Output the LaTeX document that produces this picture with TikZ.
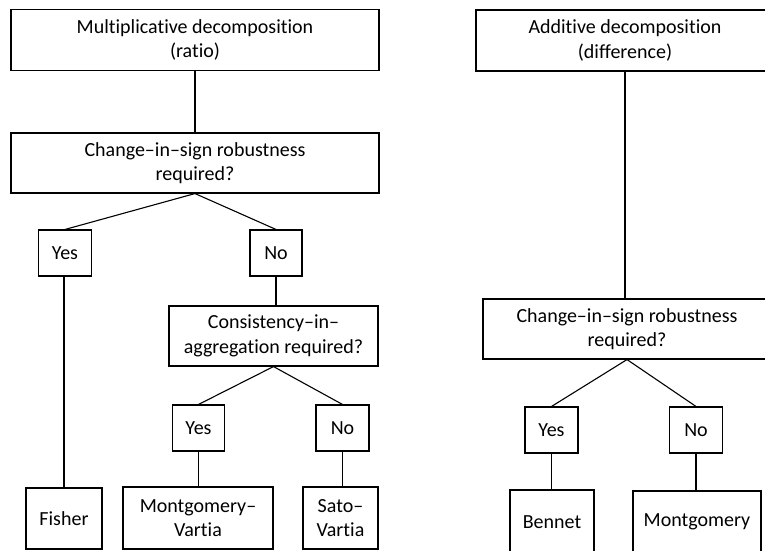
\documentclass[tikz,border=0pt]{standalone}
\usepackage{fontspec}
\setmainfont{Carlito}[Ligatures=NoCommon]
\begin{document}
\begin{tikzpicture}[x=1pt,y=-1pt,
  box/.style={draw=black,line width=1.1pt,inner sep=0pt,align=center,
    font=\fontsize{20}{24.4}\selectfont},
  link/.style={draw=black,line width=1.1pt}]
\useasboundingbox (0,0) rectangle (765,550);
\clip (0,0) rectangle (765,550);
% left tree
\node[box,minimum width=368pt,minimum height=61pt] (mult) at (195,40) {Multiplicative decomposition\\(ratio)};
\node[box,minimum width=368pt,minimum height=60pt] (ch1) at (195,163) {Change–in–sign robustness\\required?};
\node[box,minimum width=53pt,minimum height=46pt] (yes1) at (65,253) {Yes};
\node[box,minimum width=52pt,minimum height=46pt] (no1) at (276,253) {No};
\node[box,minimum width=209pt,minimum height=60pt] (cons) at (273.5,336) {Consistency–in–\\aggregation required?};
\node[box,minimum width=52pt,minimum height=46pt] (yes2) at (198.5,428) {Yes};
\node[box,minimum width=53pt,minimum height=46pt] (no2) at (342.5,428) {No};
\node[box,minimum width=76pt,minimum height=61pt] (fisher) at (64,518.5) {Fisher};
\node[box,minimum width=150pt,minimum height=62pt] (mv) at (198,518) {Montgomery–\\Vartia};
\node[box,minimum width=75pt,minimum height=62pt] (sv) at (340.5,518) {Sato–\\Vartia};
% right tree
\node[box,minimum width=298pt,minimum height=61pt] (add) at (625,40.5) {Additive decomposition\\(difference)};
\node[box,minimum width=288pt,minimum height=60pt] (ch2) at (627,329) {Change–in–sign robustness\\required?};
\node[box,minimum width=53pt,minimum height=46pt] (yes3) at (551.5,430) {Yes};
\node[box,minimum width=53pt,minimum height=46pt] (no3) at (696,430) {No};
\node[box,minimum width=84pt,minimum height=64pt] (bennet) at (552,522) {Bennet};
\node[box,minimum width=128pt,minimum height=62pt] (mont) at (697,522) {Montgomery};
% connectors
\draw[link] (mult.south) -- (ch1.north);
\draw[link] (ch1.south) -- (yes1.north);
\draw[link] (ch1.south) -- (no1.north);
\draw[link] (yes1.south -| fisher.north) -- (fisher.north);
\draw[link] (no1.south) -- (no1.south |- cons.north);
\draw[link] (cons.south) -- (yes2.north);
\draw[link] (cons.south) -- (no2.north);
\draw[link] (yes2.south) -- (yes2.south |- mv.north);
\draw[link] (no2.south) -- (no2.south |- sv.north);
\draw[link] (add.south) -- (add.south |- ch2.north);
\draw[link] (ch2.south) -- (yes3.north);
\draw[link] (ch2.south) -- (no3.north);
\draw[link] (yes3.south) -- (yes3.south |- bennet.north);
\draw[link] (no3.south) -- (no3.south |- mont.north);
\end{tikzpicture}
\end{document}
